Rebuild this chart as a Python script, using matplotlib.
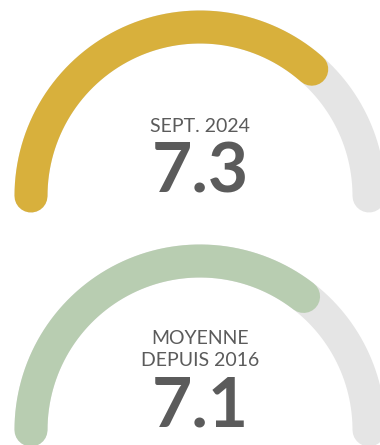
import numpy as np
import matplotlib
matplotlib.use("Agg")
import matplotlib.pyplot as plt

# gauge values on a 0-10 scale
values = [7.3, 7.1]
value_max = 10
titles = [["SEPT. 2024"], ["MOYENNE", "DEPUIS 2016"]]
colors = ["#D8B03C", "#B8CDB1"]
track_color = "#E5E5E5"
text_color = "#5B5B5B"

W, H = 380, 445
fig = plt.figure(figsize=(W / 100, H / 100), dpi=100)
ax = fig.add_axes([0, 0, 1, 1])
ax.set_xlim(0, W)
ax.set_ylim(H, 0)
ax.axis("off")

cx = 200
radius = 169
centers_y = [196, 430]
lw = 33 * 72 / 100  # stroke width in points


def arc(frac):
    t = np.linspace(np.pi, np.pi * (1 - frac), 200)
    return cx + radius * np.cos(t), cy - radius * np.sin(t)


for i, (v, col) in enumerate(zip(values, colors)):
    cy = centers_y[i]
    x, y = arc(1.0)
    ax.plot(x, y, color=track_color, lw=lw, solid_capstyle="round")
    x, y = arc(v / value_max)
    ax.plot(x, y, color=col, lw=lw, solid_capstyle="round")

    lines = titles[i]
    num_y = cy - 23
    title_y = num_y - 46 - 23 * (len(lines) - 1)
    for k, line in enumerate(lines):
        ax.text(cx, title_y + 23 * k, line, ha="center", va="center",
                fontsize=14, family="Lato", weight="normal", color=text_color)
    ax.text(cx, num_y, f"{v:.1f}", ha="center", va="center",
            fontsize=50, family="Lato", weight="bold", color=text_color)

fig.savefig("out.png", dpi=100)
